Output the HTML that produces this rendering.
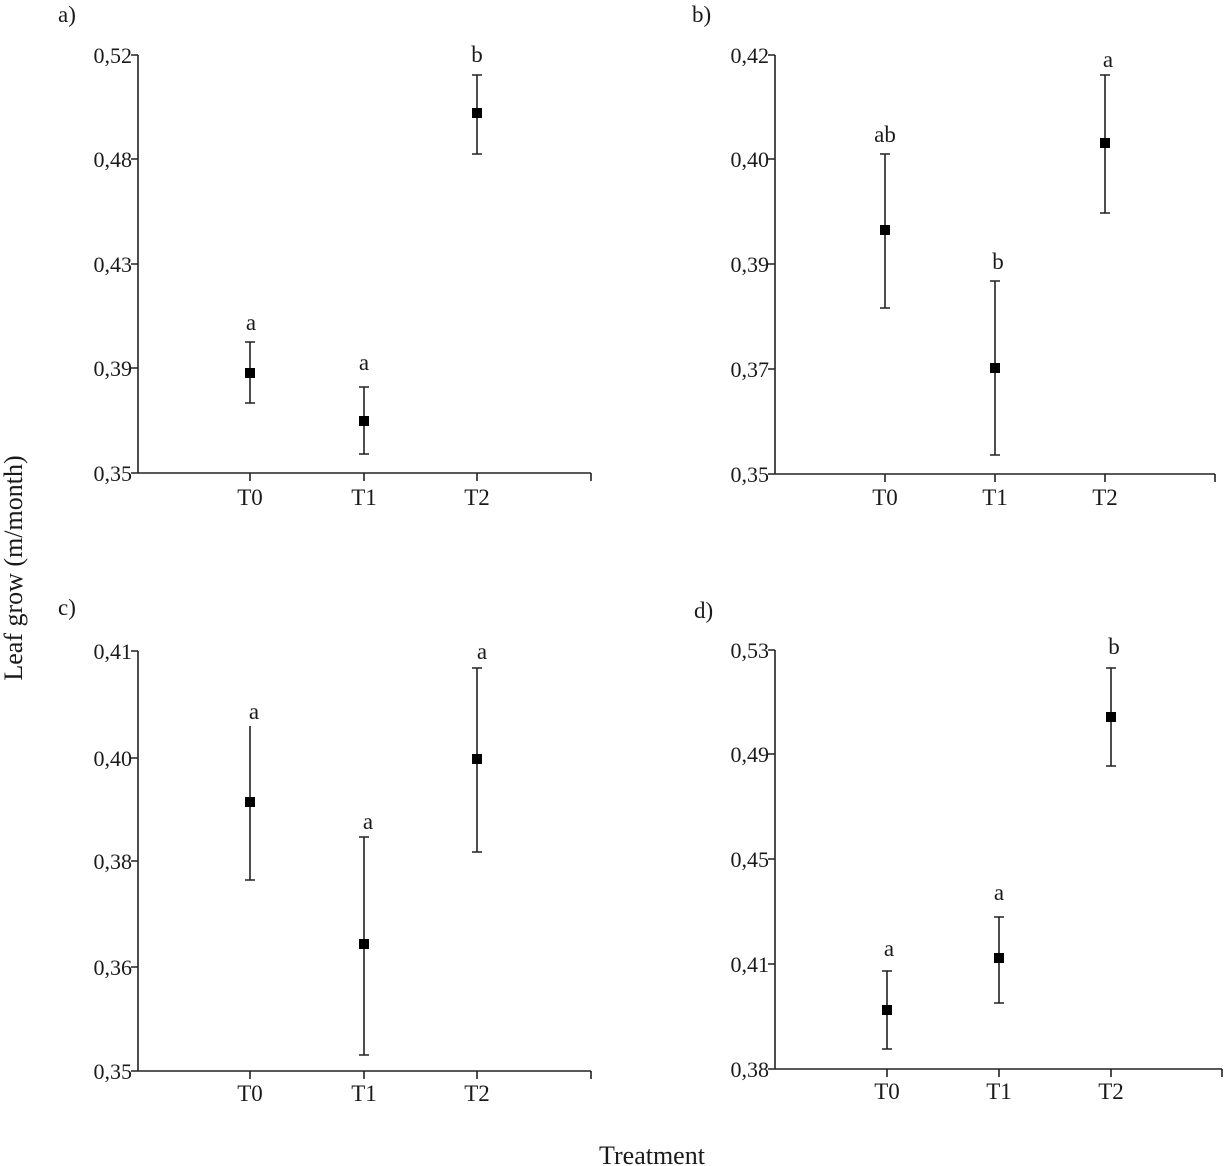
<!DOCTYPE html>
<html><head><meta charset="utf-8"><style>
html,body{margin:0;padding:0;background:#fff;}
svg{display:block;}
text{font-family:"Liberation Serif",serif;fill:#1a1a1a;}
</style></head><body>
<svg width="1229" height="1166" viewBox="0 0 1229 1166" xmlns="http://www.w3.org/2000/svg">
<g stroke="#222" stroke-width="1.6" fill="none">
<path d="M138 55V473H591M591 473v8M250 473v8M364 473v8M477 473v8M131 55h7M131 159h7M131 264h7M131 368h7M131 473h7"/>
<path d="M250 342V403M245 342h10M245 403h10M364 387V454M359 387h10M359 454h10M477 75V154M472 75h10M472 154h10"/>
<path d="M775 55V474H1215M1215 474v8M885 474v8M995 474v8M1105 474v8M768 55h7M768 159h7M768 264h7M768 369h7M768 474h7"/>
<path d="M885 154V308M880 154h10M880 308h10M995 281V455M990 281h10M990 455h10M1105 75V213M1100 75h10M1100 213h10"/>
<path d="M138 651V1071H591M591 1071v8M250 1071v8M364 1071v8M477 1071v8M131 651h7M131 758h7M131 861h7M131 967h7M131 1071h7"/>
<path d="M250 726V880M245 880h10M364 837V1055M359 837h10M359 1055h10M477 668V852M472 668h10M472 852h10"/>
<path d="M775 650V1069H1222M1222 1069v8M887 1069v8M999 1069v8M1111 1069v8M768 650h7M768 754h7M768 859h7M768 964h7M768 1069h7"/>
<path d="M887 971V1049M882 971h10M882 1049h10M999 917V1003M994 917h10M994 1003h10M1111 668V766M1106 668h10M1106 766h10"/>
</g>
<g fill="#000">
<rect x="245" y="368" width="10" height="10"/><rect x="359" y="416" width="10" height="10"/><rect x="472" y="108" width="10" height="10"/>
<rect x="880" y="225" width="10" height="10"/><rect x="990" y="363" width="10" height="10"/><rect x="1100" y="138" width="10" height="10"/>
<rect x="245" y="797" width="10" height="10"/><rect x="359" y="939" width="10" height="10"/><rect x="472" y="754" width="10" height="10"/>
<rect x="882" y="1005" width="10" height="10"/><rect x="994" y="953" width="10" height="10"/><rect x="1106" y="712" width="10" height="10"/>
</g>
<g font-size="22" text-anchor="end">
<text x="132" y="63">0,52</text><text x="132" y="167">0,48</text><text x="132" y="272">0,43</text><text x="132" y="376">0,39</text><text x="132" y="481">0,35</text>
<text x="769" y="63">0,42</text><text x="769" y="167">0,40</text><text x="769" y="272">0,39</text><text x="769" y="377">0,37</text><text x="769" y="482">0,35</text>
<text x="132" y="659">0,41</text><text x="132" y="766">0,40</text><text x="132" y="869">0,38</text><text x="132" y="975">0,36</text><text x="132" y="1079">0,35</text>
<text x="769" y="658">0,53</text><text x="769" y="762">0,49</text><text x="769" y="867">0,45</text><text x="769" y="972">0,41</text><text x="769" y="1077">0,38</text>
</g>
<g font-size="23" text-anchor="middle">
<text x="250" y="505">T0</text><text x="364" y="505">T1</text><text x="477" y="505">T2</text>
<text x="885" y="505">T0</text><text x="995" y="505">T1</text><text x="1105" y="505">T2</text>
<text x="250" y="1101">T0</text><text x="364" y="1101">T1</text><text x="477" y="1101">T2</text>
<text x="887" y="1099">T0</text><text x="999" y="1099">T1</text><text x="1111" y="1099">T2</text>
<text x="251" y="330">a</text><text x="364" y="370">a</text><text x="477" y="62">b</text>
<text x="885" y="142">ab</text><text x="998" y="269">b</text><text x="1108" y="67">a</text>
<text x="254" y="719">a</text><text x="368" y="829">a</text><text x="482" y="659">a</text>
<text x="889" y="956">a</text><text x="999" y="900">a</text><text x="1114" y="654">b</text>
</g>
<g font-size="23">
<text x="58" y="22">a)</text><text x="692" y="22">b)</text><text x="58" y="615">c)</text><text x="694" y="618">d)</text>
</g>
<g font-size="26">
<text x="652" y="1164" text-anchor="middle">Treatment</text>
<text transform="translate(22,568) rotate(-90)" text-anchor="middle">Leaf grow (m/month)</text>
</g>
</svg>
</body></html>
